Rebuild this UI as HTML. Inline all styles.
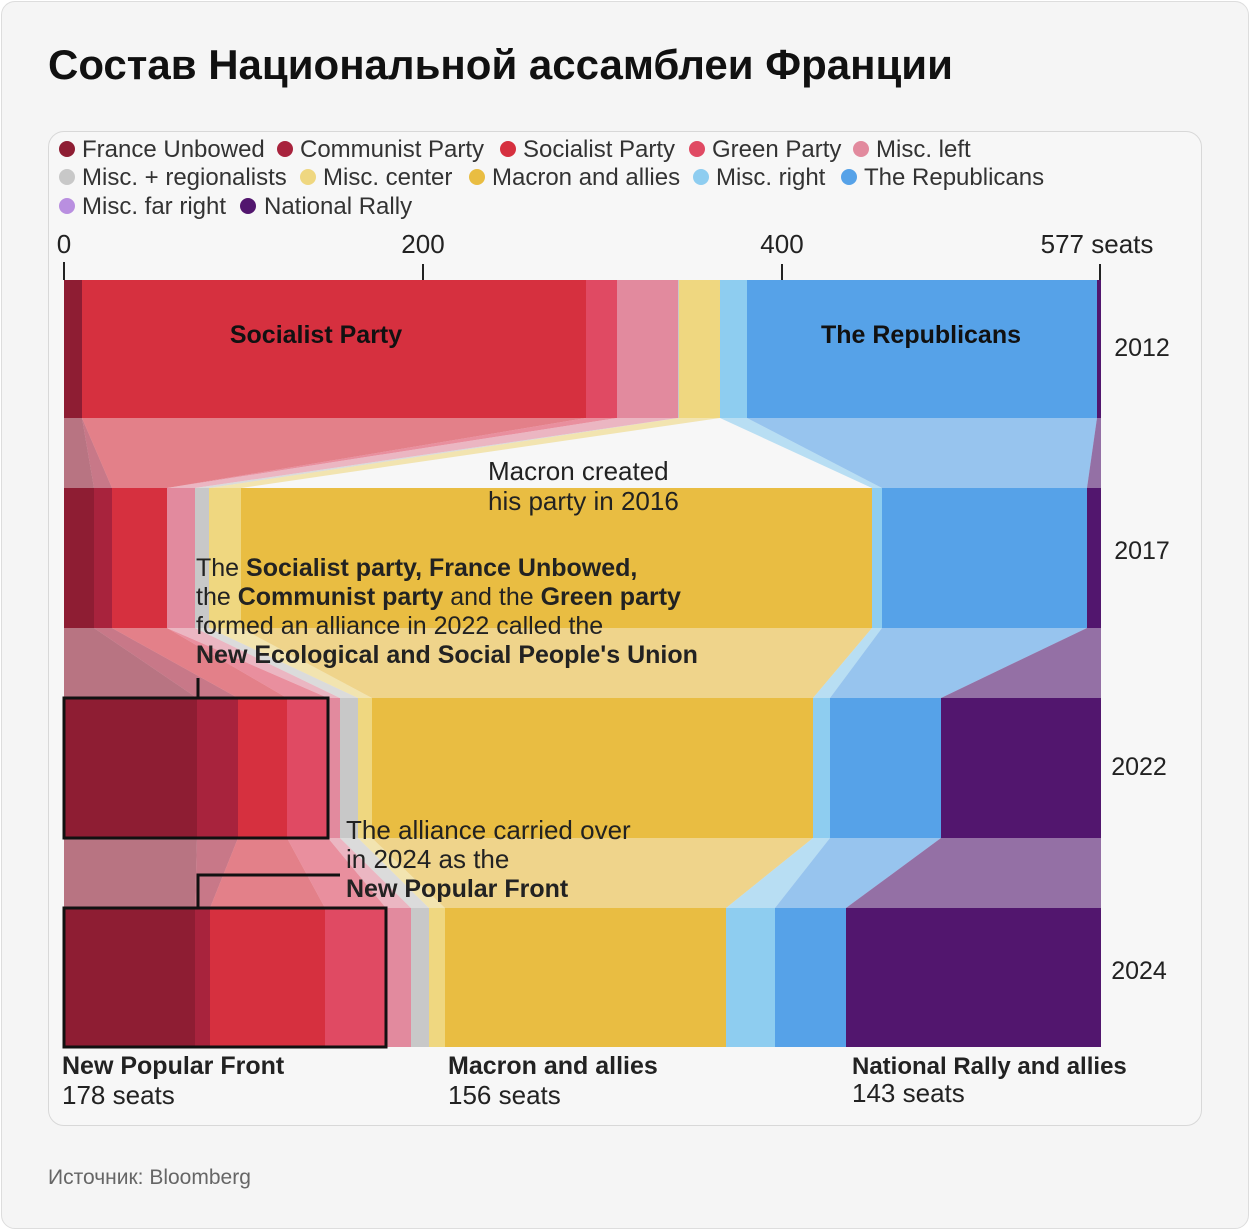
<!DOCTYPE html>
<html><head><meta charset="utf-8">
<style>
html,body{margin:0;padding:0;background:#fff;}
body{width:1250px;height:1230px;position:relative;font-family:"Liberation Sans","DejaVu Sans",sans-serif;}
.frame{position:absolute;left:1px;top:1px;width:1246px;height:1226px;background:#f5f5f5;border:1px solid #ddd;border-radius:14px;}
.card{position:absolute;left:48px;top:131px;width:1152px;height:993px;border:1px solid #d8d8d8;border-radius:16px;background:#f7f7f7;}
h1{position:absolute;left:48px;top:41px;margin:0;font-size:42px;font-weight:bold;color:#111;font-family:"Liberation Sans","DejaVu Sans",sans-serif;}
.src{position:absolute;left:48px;top:1166px;font-size:21px;color:#666;}
svg{position:absolute;left:0;top:0;}
</style></head><body>
<div class="frame"></div>
<h1>Состав Национальной ассамблеи Франции</h1>
<div class="card"></div>
<svg width="1250" height="1230" id="s" font-family="Liberation Sans, DejaVu Sans, sans-serif">
<g id="flows"></g><g id="bars"></g>
<g font-size="24" fill="#333">
<circle cx="67" cy="149" r="8" fill="#8e1d33"/><text x="82" y="157">France Unbowed</text>
<circle cx="285" cy="149" r="8" fill="#a8233d"/><text x="300" y="157">Communist Party</text>
<circle cx="508" cy="149" r="8" fill="#d6303f"/><text x="523" y="157">Socialist Party</text>
<circle cx="697" cy="149" r="8" fill="#e04a63"/><text x="712" y="157">Green Party</text>
<circle cx="861" cy="149" r="8" fill="#e28a9e"/><text x="876" y="157">Misc. left</text>
<circle cx="67" cy="177" r="8" fill="#c8c8c8"/><text x="82" y="185">Misc. + regionalists</text>
<circle cx="308" cy="177" r="8" fill="#efd780"/><text x="323" y="185">Misc. center</text>
<circle cx="477" cy="177" r="8" fill="#e9bd42"/><text x="492" y="185">Macron and allies</text>
<circle cx="701" cy="177" r="8" fill="#8ecdf0"/><text x="716" y="185">Misc. right</text>
<circle cx="849" cy="177" r="8" fill="#56a2e8"/><text x="864" y="185">The Republicans</text>
<circle cx="67" cy="206" r="8" fill="#b98fe0"/><text x="82" y="214">Misc. far right</text>
<circle cx="248" cy="206" r="8" fill="#52166e"/><text x="264" y="214">National Rally</text>
</g>
<g font-size="26" fill="#222">
<text x="64" y="253" text-anchor="middle">0</text>
<text x="423" y="253" text-anchor="middle">200</text>
<text x="782" y="253" text-anchor="middle">400</text>
<text x="1097" y="253" text-anchor="middle">577 seats</text>
</g>
<g stroke="#222" stroke-width="2">
<line x1="64" y1="262" x2="64" y2="280"/><line x1="423" y1="264" x2="423" y2="280"/><line x1="782" y1="264" x2="782" y2="280"/><line x1="1100" y1="264" x2="1100" y2="280"/>
</g>
<g font-size="25" fill="#222">
<text x="1142" y="356" text-anchor="middle">2012</text>
<text x="1142" y="559" text-anchor="middle">2017</text>
<text x="1139" y="775" text-anchor="middle">2022</text>
<text x="1139" y="979" text-anchor="middle">2024</text>
</g>
<g font-size="25" font-weight="bold" fill="#111">
<text x="316" y="343" text-anchor="middle">Socialist Party</text>
<text x="921" y="343" text-anchor="middle">The Republicans</text>
</g>
<g font-size="26" fill="#222">
<text x="488" y="480">Macron created</text>
<text x="488" y="510">his party in 2016</text>
<text x="196" y="576" font-size="25">The <tspan font-weight="bold">Socialist party, France Unbowed,</tspan></text>
<text x="196" y="605" font-size="25">the <tspan font-weight="bold">Communist party</tspan> and the <tspan font-weight="bold">Green party</tspan></text>
<text x="196" y="634" font-size="25">formed an alliance in 2022 called the</text>
<text x="196" y="663" font-size="25" font-weight="bold">New Ecological and Social People's Union</text>
<text x="346" y="839">The alliance carried over</text>
<text x="346" y="868">in 2024 as the</text>
<text x="346" y="897" font-weight="bold" font-size="25">New Popular Front</text>
<text x="62" y="1074" font-weight="bold" font-size="25">New Popular Front</text>
<text x="62" y="1104">178 seats</text>
<text x="448" y="1074" font-weight="bold" font-size="25">Macron and allies</text>
<text x="448" y="1104">156 seats</text>
<text x="852" y="1074" font-weight="bold" font-size="24">National Rally and allies</text>
<text x="852" y="1102">143 seats</text>
</g>
<g fill="none" stroke="#111" stroke-width="3">
<rect x="64" y="698" width="264" height="140"/>
<rect x="64" y="908" width="322" height="139"/>
<line x1="198" y1="678" x2="198" y2="698"/>
<polyline points="198,908 198,875 340,875"/>
</g>
</svg>
<div class="src">Источник: Bloomberg</div>
<script>
var C=["#8e1d33","#a8233d","#d6303f","#e04a63","#e28a9e","#c8c8c8","#efd780","#e9bd42","#8ecdf0","#56a2e8","#b98fe0","#52166e"];
var B=[
 {y:[280,418],x:[64,82,82,586,617,678,679,720,720,747,1097,1097,1101]},
 {y:[488,628],x:[64,94,112,167,167,195,209,241,872,882,1087,1087,1101]},
 {y:[698,838],x:[64,197,238,287,328,340,358,372,813,830,941,941,1101]},
 {y:[908,1047],x:[64,195,210,325,386,411,429,445,726,775,846,846,1101]}
];
var ns="http://www.w3.org/2000/svg",f=document.getElementById("flows"),b=document.getElementById("bars");
function poly(g,pts,col,op){var p=document.createElementNS(ns,"polygon");p.setAttribute("points",pts);p.setAttribute("fill",col);if(op)p.setAttribute("fill-opacity",op);g.appendChild(p);}
for(var k=0;k<4;k++){var r=B[k];for(var i=0;i<12;i++){var x0=r.x[i],x1=r.x[i+1];if(x1>x0)poly(b,x0+","+r.y[0]+" "+x1+","+r.y[0]+" "+x1+","+r.y[1]+" "+x0+","+r.y[1],C[i]);}
 if(k<3){var s=B[k+1];for(var i=0;i<12;i++){if(k==0&&i==7)continue;var a0=r.x[i],a1=r.x[i+1],c0=s.x[i],c1=s.x[i+1];if(a1>a0||c1>c0)poly(f,a0+","+r.y[1]+" "+a1+","+r.y[1]+" "+c1+","+s.y[0]+" "+c0+","+s.y[0],C[i],0.6);}}}
</script>
</body></html>
